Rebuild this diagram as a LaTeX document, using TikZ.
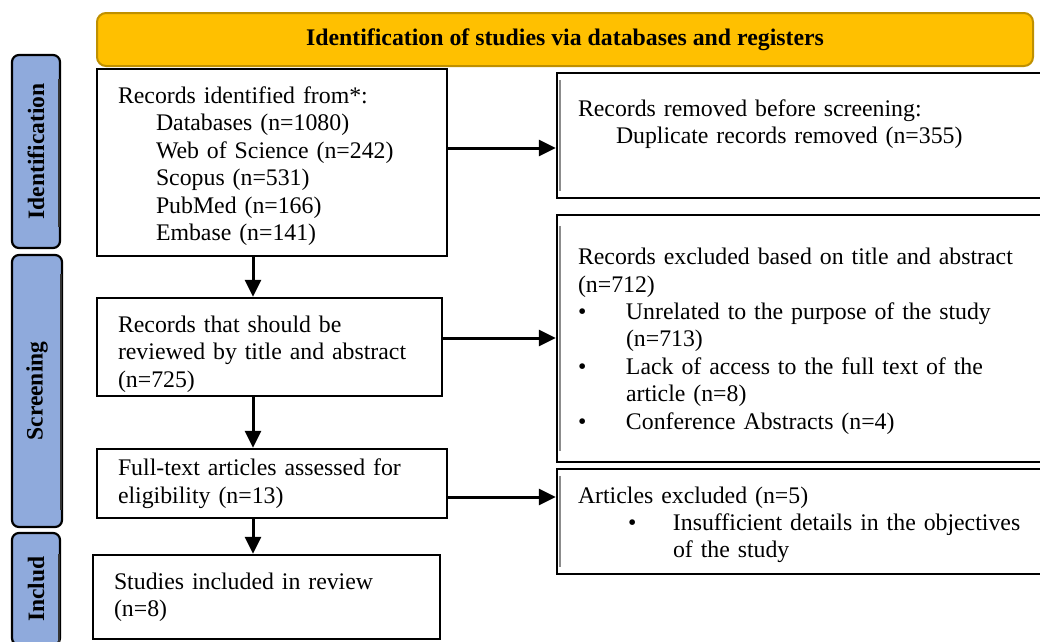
\documentclass[tikz,border=0pt]{standalone}
\usepackage{fontspec}
\setmainfont{Liberation Serif}
\usetikzlibrary{arrows.meta}
\definecolor{tabblue}{HTML}{8FAADC}
\definecolor{bannergold}{HTML}{FFC000}
\definecolor{bannerline}{HTML}{BF9000}
\tikzset{
  flowbox/.style={draw, line width=2.4pt, rectangle, inner xsep=21pt, inner ysep=0pt, align=left, font=\fontsize{23.8}{27.4}\selectfont},
  phasetab/.style={draw, line width=2.2pt, rounded corners=7pt, fill=tabblue, rotate=90, inner sep=0pt, font=\bfseries\fontsize{23.5}{27}\selectfont},
  flowarrow/.style={-{Triangle[length=17pt,width=16pt]}, line width=3pt},
  tabshade/.style={line width=1.8pt, black!80},
  boxshade/.style={line width=1.6pt, black!45}
}

\begin{document}
\begin{tikzpicture}[x=1pt, y=-1pt]
\useasboundingbox (0,0) rectangle (1040,641);
\clip (0,0) rectangle (1040,641);

% Banner
\node[draw=bannerline, line width=2pt, fill=bannergold, rounded corners=9pt, minimum width=936pt, minimum height=53pt, font=\bfseries\fontsize{23.8}{27}\selectfont] (banner) at (565,39.5) {Identification of studies via databases and registers};

% Phase tabs
\node[phasetab, minimum width=193pt, minimum height=48pt] (tabident) at (36,151.5) {Identification};
\node[phasetab, minimum width=272pt, minimum height=50pt] (tabscreen) at (37,391) {Screening};
\node[phasetab, minimum width=112pt, minimum height=48pt] (tabinclud) at (36,589) {Includ};
\draw[tabshade] ([xshift=-2.5pt, yshift=-25pt]tabident.south east) -- ([xshift=-2.5pt, yshift=22pt]tabident.south west);
\draw[tabshade] ([xshift=-2.5pt, yshift=-20pt]tabscreen.south east) -- ([xshift=-2.5pt, yshift=18pt]tabscreen.south west);
\draw[tabshade] ([xshift=-2.5pt, yshift=-22pt]tabinclud.south east) -- ([xshift=-2.5pt, yshift=0pt]tabinclud.south west);

% Left column
\node[flowbox, minimum width=350pt, minimum height=187pt, text width=308pt] (identified) at (272,162.5) {\rule{0pt}{24pt}Records identified from*:\\
\hspace*{38pt}Databases (n=1080)\\
\hspace*{38pt}Web of Science (n=242)\\
\hspace*{38pt}Scopus (n=531)\\
\hspace*{38pt}PubMed (n=166)\\
\hspace*{38pt}Embase (n=141)};
\node[flowbox, minimum width=345pt, minimum height=98pt, text width=303pt] (screened) at (269.5,347) {\rule{0pt}{31pt}Records that should be\\ reviewed by title and abstract\\ (n=725)};
\node[flowbox, minimum width=350pt, minimum height=69pt, text width=308pt] (fulltext) at (272,483.5) {Full-text articles assessed for\\ eligibility (n=13)};
\node[flowbox, minimum width=347pt, minimum height=84pt, text width=305pt] (included) at (266.5,597) {Studies included in review\\ (n=8)};

% Right column
\node[flowbox, minimum width=503pt, minimum height=125pt, text width=461pt] (removed) at (808.5,135.5) {Records removed before screening:\\
\hspace*{38pt}Duplicate records removed (n=355)\\ ~};
\node[flowbox, minimum width=503pt, minimum height=247pt, text width=461pt] (excluded) at (808.5,338.5) {\rule{0pt}{22pt}Records excluded based on title and abstract\\ (n=712)\\
\makebox[48pt][l]{\textbullet}Unrelated to the purpose of the study\\
\hspace*{48pt}(n=713)\\
\makebox[48pt][l]{\textbullet}Lack of access to the full text of the\\
\hspace*{48pt}article (n=8)\\
\makebox[48pt][l]{\textbullet}Conference Abstracts (n=4)};
\node[flowbox, minimum width=503pt, minimum height=105pt, text width=461pt] (artexcluded) at (808.5,521.5) {\rule{0pt}{23pt}Articles excluded (n=5)\\
\hspace*{50pt}\makebox[45pt][l]{\textbullet}Insufficient details in the objectives\\
\hspace*{95pt}of the study};
\draw[boxshade] ([xshift=4pt, yshift=-8pt]removed.north west) -- ([xshift=4pt, yshift=8pt]removed.south west);
\draw[boxshade] ([xshift=4pt, yshift=-12pt]excluded.north west) -- ([xshift=4pt, yshift=12pt]excluded.south west);
\draw[boxshade] ([xshift=4pt, yshift=-8pt]artexcluded.north west) -- ([xshift=4pt, yshift=8pt]artexcluded.south west);

% Connectors
\coordinate (downx) at (253,0);
\coordinate (side1) at (0,148);
\coordinate (side2) at (0,338);
\coordinate (side3) at (0,497);
\draw[flowarrow] (identified.south -| downx) -- (screened.north -| downx);
\draw[flowarrow] (screened.south -| downx) -- (fulltext.north -| downx);
\draw[flowarrow] (fulltext.south -| downx) -- (included.north -| downx);
\draw[flowarrow] (identified.east |- side1) -- (removed.west |- side1);
\draw[flowarrow] (screened.east |- side2) -- (excluded.west |- side2);
\draw[flowarrow] (fulltext.east |- side3) -- (artexcluded.west |- side3);
\end{tikzpicture}
\end{document}
